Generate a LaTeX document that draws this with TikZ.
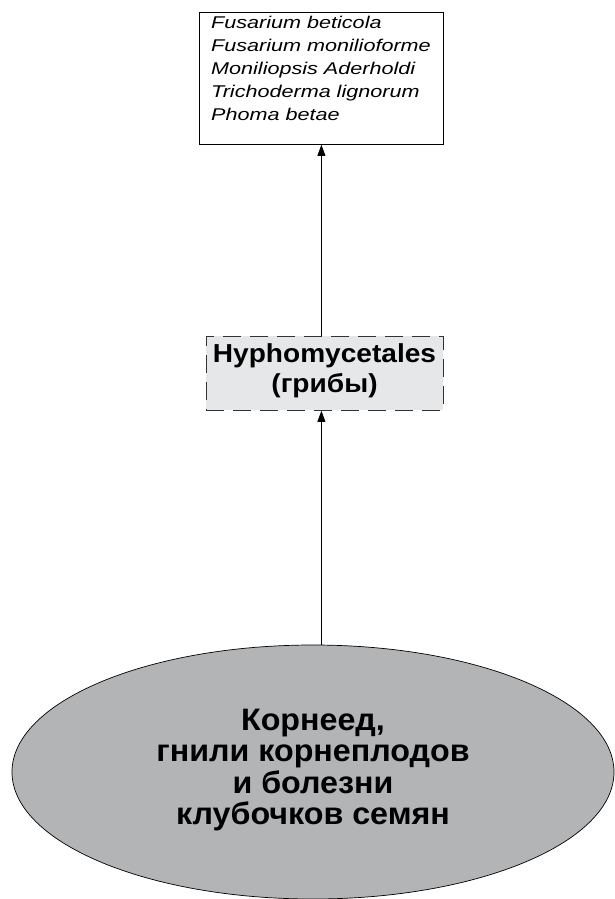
\documentclass[tikz,border=0pt]{standalone}
\usepackage{fontspec}
\setmainfont{Liberation Sans}
\newfontfamily\widetop[FakeStretch=1.27]{Liberation Sans}
\newfontfamily\widemid[FakeStretch=1.08]{Liberation Sans}
\newfontfamily\wideell[FakeStretch=1.04]{Liberation Sans}
\usetikzlibrary{arrows.meta,shapes.geometric}
\definecolor{ellgray}{HTML}{B3B4B6}
\definecolor{boxgray}{HTML}{E6E7E8}
\begin{document}
\begin{tikzpicture}[x=1pt,y=-1pt,
  arr/.style={-{Triangle[length=11pt,width=8pt]},line width=0.7pt},
  plainbox/.style={draw,line width=0.8pt,anchor=north west,inner sep=0pt},
  dashbox/.style={draw=black!80,fill=boxgray,line width=0.8pt,dash pattern=on 18pt off 9pt,anchor=north west,inner sep=0pt},
  ell/.style={ellipse,draw,fill=ellgray,line width=0.7pt,inner sep=0pt}]
\useasboundingbox (0,0) rectangle (615,899);
\node[plainbox,minimum width=244pt,minimum height=132pt] (top) at (199,12) {};
\node[anchor=north west,align=left,inner sep=0pt,font=\widetop\fontsize{17}{23}\selectfont\itshape] (toptext) at (211,15.5)
 {Fusarium beticola\\Fusarium monilioforme\\Moniliopsis Aderholdi\\Trichoderma lignorum\\Phoma betae};
\node[dashbox,minimum width=237pt,minimum height=74pt] (hyph) at (206,336) {};
\node[align=center,inner sep=0pt,font=\widemid\fontsize{26}{30}\selectfont\bfseries] (hyphtext) at (324.5,371)
 {Hyphomycetales\\(грибы)};
\node[ell,minimum width=602pt,minimum height=254pt] (ell) at (313,772) {};
\node[align=center,inner sep=0pt,font=\wideell\fontsize{31}{31.5}\selectfont\bfseries] (elltext) at (313,770)
 {Корнеед,\\гнили корнеплодов\\и болезни\\клубочков семян};
\draw[arr] (hyph.north -| top.south) -- (top.south);
\draw[arr] (ell.north -| top.south) -- (hyph.south -| top.south);
\end{tikzpicture}
\end{document}
